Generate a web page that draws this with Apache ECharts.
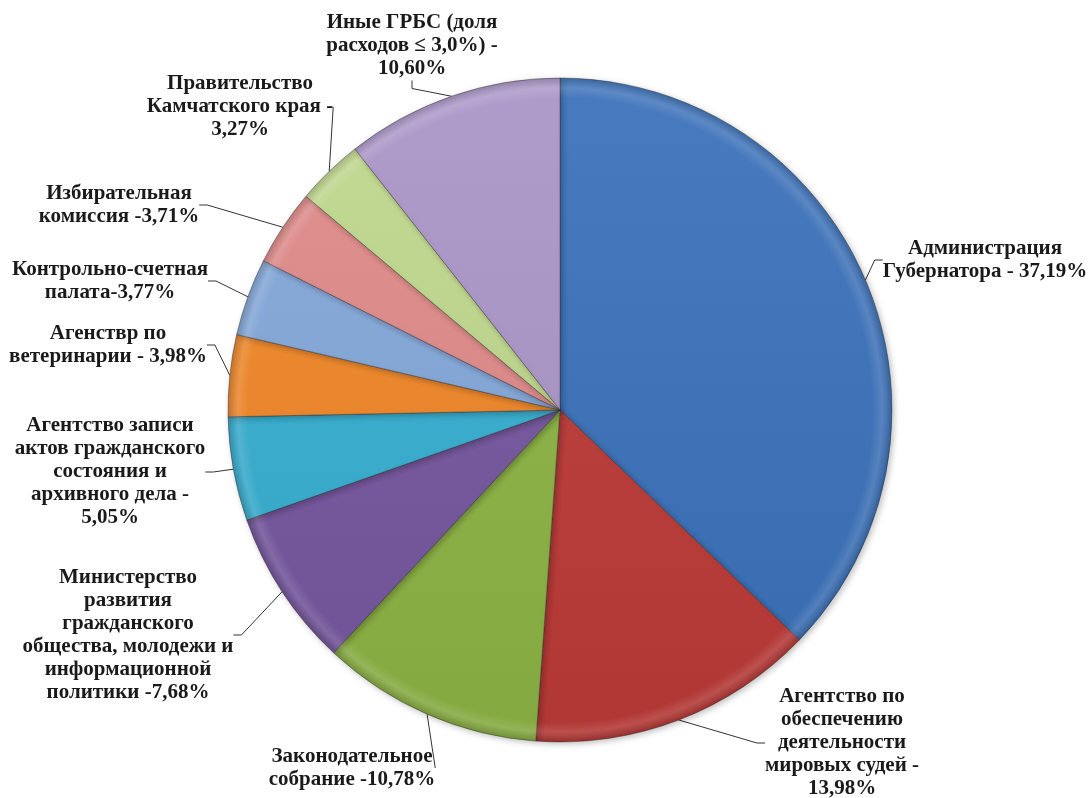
<!DOCTYPE html>
<html><head><meta charset="utf-8">
<script src="https://cdn.jsdelivr.net/npm/echarts@6/dist/echarts.min.js"></script>
<style>html,body{margin:0;padding:0;background:#fff}#c{width:1089px;height:798px}</style>
</head><body><div id="c"></div>
<script>
const categories = [
  'Администрация Губернатора',
  'Агентство по обеспечению деятельности мировых судей',
  'Законодательное собрание',
  'Министерство развития гражданского общества, молодежи и информационной политики',
  'Агентство записи актов гражданского состояния и архивного дела',
  'Агенствр по ветеринарии',
  'Контрольно-счетная палата',
  'Избирательная комиссия',
  'Правительство Камчатского края',
  'Иные ГРБС (доля расходов ≤ 3,0%)'
];
const values = [37.19, 13.98, 10.78, 7.68, 5.05, 3.98, 3.77, 3.71, 3.27, 10.60];
const labelTexts = [
  'Администрация\nГубернатора - 37,19%',
  'Агентство по\nобеспечению\nдеятельности\nмировых судей -\n13,98%',
  'Законодательное\nсобрание -10,78%',
  'Министерство\nразвития\nгражданского\nобщества, молодежи и\nинформационной\nполитики -7,68%',
  'Агентство записи\nактов гражданского\nсостояния и\nархивного дела -\n5,05%',
  'Агенствр по\nветеринарии - 3,98%',
  'Контрольно-счетная\nпалата-3,77%',
  'Избирательная\nкомиссия -3,71%',
  'Правительство\nКамчатского края -\n3,27%',
  'Иные ГРБС (доля\nрасходов ≤ 3,0%) -\n10,60%'
];
// style: slice colours and label anchor positions (px)
const colors = ['#3B72BA','#BC3B37','#8DB445','#76569F','#36AED1','#F08728','#84A8DA','#DF8A88','#BFD88D','#AB96C8'];
const labelPos = [[985,260],[842,743],[352,768],[128,635],[110,472],[108,345],[110,281],[119,205],[240,107],[412,46]];
const CX=560, CY=410, R=332;

function shade(hex, f){
  const n=parseInt(hex.slice(1),16);let r=n>>16,g=(n>>8)&255,b=n&255;
  const m=c=>Math.max(0,Math.min(255,Math.round(f<0?c*(1+f):c+(255-c)*f)));
  return 'rgb('+m(r)+','+m(g)+','+m(b)+')';
}
const data = values.map((v,i)=>({
  name: categories[i], value: v,
  itemStyle:{color:{type:'linear',x:CX,y:CY-R,x2:CX,y2:CY+R,global:true,colorStops:[
    {offset:0,color:shade(colors[i],0.06)},{offset:1,color:shade(colors[i],-0.06)}]}}
}));
const chart = echarts.init(document.getElementById('c'));
chart.setOption({
  animation:false,
  series:[{
    type:'pie', center:[CX,CY], radius:R, startAngle:90, clockwise:true,
    data,
    itemStyle:{borderColor:'rgba(40,40,40,0.5)',borderWidth:0.8,shadowColor:'rgba(0,0,0,0.25)',shadowBlur:6,shadowOffsetX:2,shadowOffsetY:2},
    label:{show:true,formatter:p=>labelTexts[p.dataIndex],fontFamily:'Liberation Serif',fontWeight:'bold',fontSize:21,lineHeight:23,color:'#1a1a1a',align:'center',overflow:'none'},
    labelLine:{show:true,length:12,length2:8,lineStyle:{color:'#333',width:1}},
    labelLayout:function(p){const q=labelPos[p.dataIndex];return {x:q[0],y:q[1],align:'center',verticalAlign:'middle'};}
  },{
    type:'pie', center:[CX,CY], radius:R, startAngle:90, clockwise:true, silent:true,
    data: values.map(v=>({value:v})),
    label:{show:false}, labelLine:{show:false},
    itemStyle:{borderWidth:0,color:{type:'radial',x:CX,y:CY,r:R,global:true,colorStops:[
      {offset:0,color:'rgba(255,255,255,0)'},{offset:0.94,color:'rgba(255,255,255,0)'},{offset:0.97,color:'rgba(255,255,255,0.12)'},{offset:1,color:'rgba(0,0,0,0.15)'}]}}
  }]
});
</script></body></html>
